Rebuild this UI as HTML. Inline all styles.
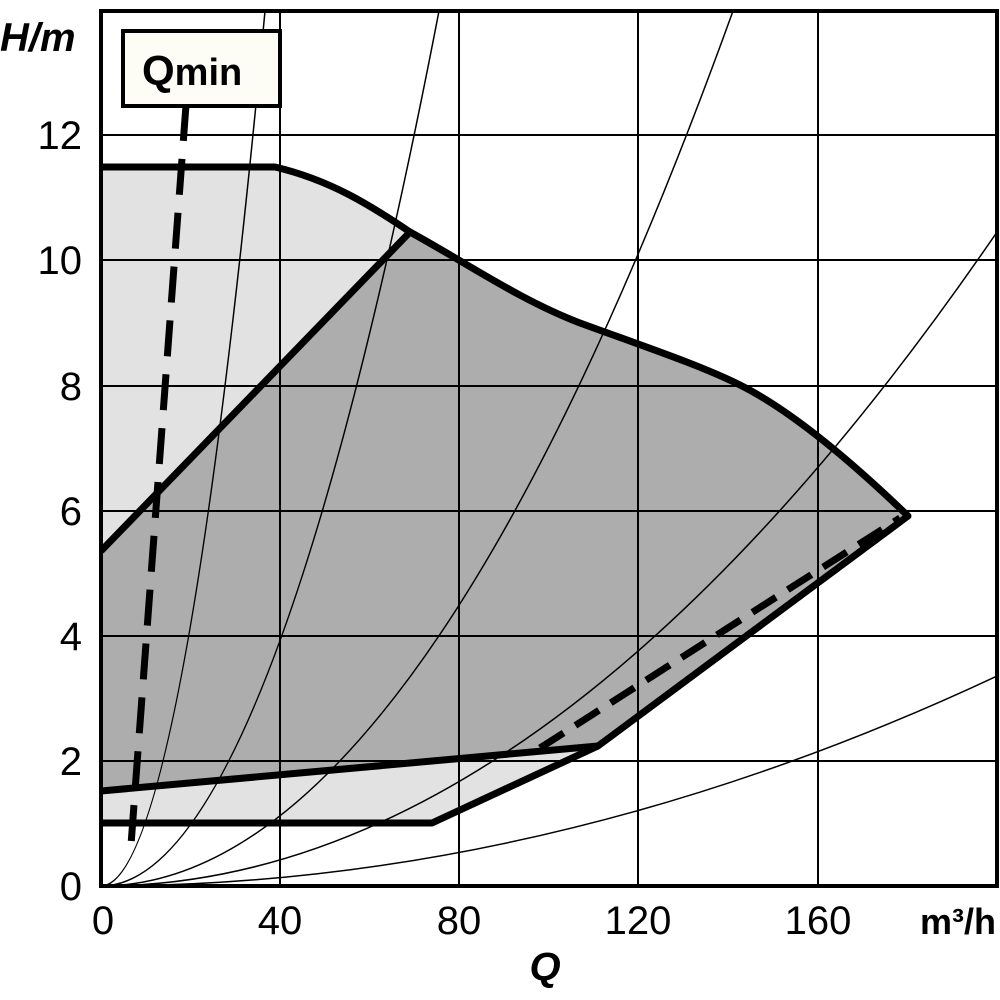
<!DOCTYPE html>
<html><head><style>body{margin:0;background:#fff}svg{display:block}</style></head><body>
<svg width="1000" height="1000" viewBox="0 0 1000 1000" xmlns="http://www.w3.org/2000/svg" font-family="Liberation Sans, DejaVu Sans, sans-serif">
<defs><clipPath id="c"><rect x="101" y="11" width="896" height="875"/></clipPath></defs>
<g clip-path="url(#c)">
<path d="M101,167 L275,167 C330,180 370,205 410,232 C470,265 520,300 580,323 C640,345 700,365 740,385 C790,410 850,460 908,516 L598,746 L432,823 L101,823 Z" fill="#e2e2e2"/>
<path d="M101,551 L410,232 C470,265 520,300 580,323 C640,345 700,365 740,385 C790,410 850,460 908,516 L598,746 L101,791 Z" fill="#adadad"/>
<g stroke="#000" stroke-width="2" fill="none">
<line x1="280" y1="11" x2="280" y2="886"/><line x1="459" y1="11" x2="459" y2="886"/><line x1="638" y1="11" x2="638" y2="886"/><line x1="818" y1="11" x2="818" y2="886"/>
<line x1="101" y1="761" x2="997" y2="761"/><line x1="101" y1="636" x2="997" y2="636"/><line x1="101" y1="511" x2="997" y2="511"/><line x1="101" y1="386" x2="997" y2="386"/><line x1="101" y1="260" x2="997" y2="260"/><line x1="101" y1="135" x2="997" y2="135"/>
</g>
<g stroke="#000" stroke-width="1.5" fill="none">
<path d="M101,886 Q183,886 265,11"/>
<path d="M101,886 Q270,886 439,11"/>
<path d="M101,886 Q417,886 733,11"/>
<path d="M101,886 Q549,886 997,232"/>
<path d="M101,886 Q549,886 997,676"/>
</g>
<g stroke="#000" stroke-width="7" fill="none" stroke-linejoin="round">
<path d="M101,167 L275,167 C330,180 370,205 410,232 C470,265 520,300 580,323 C640,345 700,365 740,385 C790,410 850,460 908,516 L598,746 L432,823 L101,823"/>
<path d="M101,551 L410,232"/>
<path d="M101,791 L598,746"/>
<path d="M540,748 L900,518" stroke-dasharray="28,14"/>
<path d="M186,105 L131,845" stroke-dasharray="36,18"/>
</g>
</g>
<rect x="101" y="11" width="896" height="875" fill="none" stroke="#000" stroke-width="4"/>
<rect x="123" y="31" width="157" height="75" fill="#fdfdf6" stroke="#000" stroke-width="4"/>
<text x="142" y="85" font-size="42" font-weight="bold">Q<tspan font-size="38">min</tspan></text>
<g font-size="40" text-anchor="end">
<text x="82" y="900">0</text><text x="82" y="775">2</text><text x="82" y="650">4</text><text x="82" y="525">6</text><text x="82" y="400">8</text><text x="82" y="274">10</text><text x="82" y="149">12</text>
</g>
<g font-size="40" text-anchor="middle">
<text x="103" y="934">0</text><text x="280" y="934">40</text><text x="459" y="934">80</text><text x="638" y="934">120</text><text x="818" y="934">160</text>
</g>
<text x="0" y="51" font-size="40" font-weight="bold" font-style="italic">H/m</text>
<text x="545" y="980" font-size="40" font-weight="bold" font-style="italic" text-anchor="middle">Q</text>
<text x="996" y="934" font-size="36" font-weight="bold" text-anchor="end">m³/h</text>
</svg>
</body></html>
